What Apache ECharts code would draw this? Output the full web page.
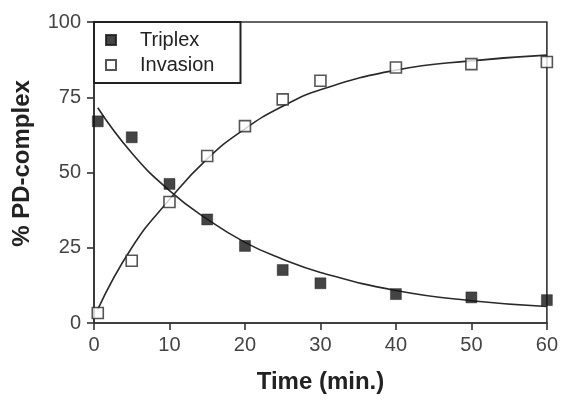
<!DOCTYPE html>
<html>
<head>
<meta charset="utf-8">
<script src="https://cdn.jsdelivr.net/npm/echarts@6/dist/echarts.min.js"></script>
<style>
  html, body { margin: 0; padding: 0; background: #fff; }
  #chart { width: 561px; height: 399px; }
</style>
</head>
<body>
<div id="chart"></div>
<script>
// measured points (time in min, % PD-complex)
const triplexTime = [0.5, 5, 10, 15, 20, 25, 30, 40, 50, 60];
const triplexPct = [67, 61.7, 46.2, 34.4, 25.6, 17.6, 13.2, 9.6, 8.5, 7.6];
const invasionTime = [0.5, 5, 10, 15, 20, 25, 30, 40, 50, 60];
const invasionPct = [3.3, 20.7, 40.2, 55.5, 65.4, 74.3, 80.5, 84.9, 86, 86.7];

// fitted curves
const fitTime = [0.5, 5, 10, 15, 20, 25, 30, 40, 50, 60];
const triplexFit = [71.5, 56.5, 44, 34.5, 26.8, 21.2, 16.8, 10.8, 7.4, 5.5];
const invasionFit = [4.5, 25, 41, 54.5, 64.5, 72, 77.5, 84, 87.1, 89];

const xTicks = [0, 10, 20, 30, 40, 50, 60];
const yTicks = [0, 25, 50, 75, 100];

const pairs = (xs, ys) => xs.map((x, i) => [x, ys[i]]);

const chart = echarts.init(document.getElementById("chart"));

const labelFont = { fontFamily: "Liberation Sans, Arial, sans-serif", fontSize: 20, color: "#444" };
const titleFont = { fontFamily: "Liberation Sans, Arial, sans-serif", fontSize: 24, fontWeight: "bold", color: "#222" };

chart.setOption({
  backgroundColor: "#fff",
  animation: false,
  grid: {
    left: 94, right: 12, top: 22, bottom: 74,
    show: true, borderColor: "#333", borderWidth: 1.6, backgroundColor: "transparent"
  },
  legend: {
    orient: "vertical",
    left: 94, top: 22,
    data: ["Triplex", "Invasion"],
    borderColor: "#222", borderWidth: 2,
    padding: [8, 26, 8, 11],
    itemGap: 5,
    itemWidth: 10, itemHeight: 10,
    textStyle: { fontFamily: "Liberation Sans, Arial, sans-serif", fontSize: 20, color: "#222", padding: [0, 0, 0, 19] }
  },
  xAxis: {
    type: "value",
    min: 0, max: 60, interval: 10,
    name: "Time (min.)",
    nameLocation: "middle",
    nameGap: 47,
    nameTextStyle: titleFont,
    axisLine: { show: true, lineStyle: { color: "#333", width: 1.6 } },
    axisTick: { show: true, length: 7, lineStyle: { color: "#333", width: 1.6 } },
    axisLabel: Object.assign({ margin: 12, formatter: (v) => xTicks.includes(v) ? String(v) : "" }, labelFont),
    splitLine: { show: false }
  },
  yAxis: {
    type: "value",
    min: 0, max: 100, interval: 25,
    name: "% PD-complex",
    nameLocation: "middle",
    nameGap: 60,
    nameTextStyle: Object.assign({ padding: [0, 0, 0, 18] }, titleFont),
    axisLine: { show: true, lineStyle: { color: "#333", width: 1.6 } },
    axisTick: { show: true, length: 7, lineStyle: { color: "#333", width: 1.6 } },
    axisLabel: Object.assign({ margin: 13, formatter: (v) => yTicks.includes(v) ? String(v) : "" }, labelFont),
    splitLine: { show: false }
  },
  series: [
    {
      name: "Triplex fit",
      type: "line",
      smooth: true,
      symbol: "none",
      data: pairs(fitTime, triplexFit),
      lineStyle: { color: "#2a2a2a", width: 1.6 },
      z: 1
    },
    {
      name: "Invasion fit",
      type: "line",
      smooth: true,
      symbol: "none",
      data: pairs(fitTime, invasionFit),
      lineStyle: { color: "#2a2a2a", width: 1.6 },
      z: 1
    },
    {
      name: "Triplex",
      type: "scatter",
      symbol: "rect",
      symbolSize: 11,
      data: pairs(triplexTime, triplexPct),
      itemStyle: { color: "#151515", borderColor: "#151515", borderWidth: 0.5 },
      z: 3
    },
    {
      name: "Invasion",
      type: "scatter",
      symbol: "rect",
      symbolSize: 11,
      data: pairs(invasionTime, invasionPct),
      itemStyle: { color: "#fff", borderColor: "#2a2a2a", borderWidth: 1.6 },
      z: 3
    }
  ]
});
</script>
</body>
</html>
